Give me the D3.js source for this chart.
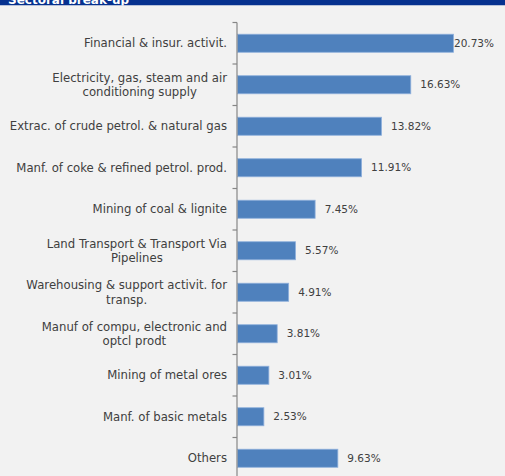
<!DOCTYPE html>
<html>
<head>
<meta charset="utf-8">
<script src="https://cdn.jsdelivr.net/npm/d3@7/dist/d3.min.js"></script>
<style>
  html, body { margin: 0; padding: 0; background: #f2f2f2; }
  svg { display: block; }
</style>
</head>
<body>
<svg id="chart" width="505" height="476"></svg>
<script>
// Sector shares of the portfolio (%); "\n" marks where a long sector name wraps
const title = "Sectoral break-up";
const categories = [
  "Financial & insur. activit.",
  "Electricity, gas, steam and air\nconditioning supply",
  "Extrac. of crude petrol. & natural gas",
  "Manf. of coke & refined petrol. prod.",
  "Mining of coal & lignite",
  "Land Transport & Transport Via\nPipelines",
  "Warehousing & support activit. for\ntransp.",
  "Manuf of compu, electronic and\noptcl prodt",
  "Mining of metal ores",
  "Manf. of basic metals",
  "Others"
];
const shares = [20.73, 16.63, 13.82, 11.91, 7.45, 5.57, 4.91, 3.81, 3.01, 2.53, 9.63];
const shareLabels = ["20.73%", "16.63%", "13.82%", "11.91%", "7.45%", "5.57%", "4.91%", "3.81%", "3.01%", "2.53%", "9.63%"];

const W = 505, H = 476;
const FONT = "'DejaVu Sans', Verdana, sans-serif";
const FS_CAT = 11.7;
const FS_VAL = 10.5;
const TEXT = "#404040";

const svg = d3.select("#chart");
svg.append("rect").attr("width", W).attr("height", H).attr("fill", "#f2f2f2");

// Section header strip
svg.append("clipPath").attr("id", "hdrClip")
  .append("rect").attr("x", 0).attr("y", 0).attr("width", W).attr("height", 5.5);
const hdr = svg.append("g").attr("clip-path", "url(#hdrClip)");
hdr.append("rect").attr("x", 0).attr("y", 0).attr("width", W).attr("height", 5.5).attr("fill", "#06318f");
hdr.append("text").attr("x", 8).attr("y", 3.5)
  .attr("fill", "#fff").attr("font-family", FONT).attr("font-weight", "bold").attr("font-size", 12)
  .text(title);

const x0 = 237;
const x = d3.scaleLinear().domain([0, 20.73]).range([x0, x0 + 216]);
const y = d3.scaleBand().domain(categories).range([22.5, 22.5 + 41.5 * categories.length])
  .paddingInner(0.565).paddingOuter(0.2825);

// Bars
svg.append("g").selectAll("rect").data(categories).join("rect")
  .attr("x", x(0) + 0.5)
  .attr("y", d => y(d))
  .attr("width", (d, i) => x(shares[i]) - x(0))
  .attr("height", y.bandwidth())
  .attr("fill", "#4f81bd")
  .attr("stroke", "#8fb0dc")
  .attr("stroke-width", 0.8);

// Category axis with ticks at band boundaries
const axis = svg.append("g").attr("class", "axis");
const step = y.step();
const y0 = y.range()[0];
axis.append("line").attr("x1", x0).attr("x2", x0).attr("y1", y0).attr("y2", H)
  .attr("stroke", "#868686").attr("stroke-width", 1.2);
axis.selectAll("line.tick").data(d3.range(categories.length + 1)).join("line")
  .attr("class", "tick")
  .attr("x1", x0 - 4.5).attr("x2", x0)
  .attr("y1", i => y0 + i * step).attr("y2", i => y0 + i * step)
  .attr("stroke", "#868686").attr("stroke-width", 1.2);

// Category labels: a block right-aligned to the axis, lines centred in the block
const labelRight = 227, lineH = 14.5;
const labels = svg.append("g").attr("font-family", FONT).attr("font-size", FS_CAT).attr("fill", TEXT);
const probe = labels.append("text").attr("visibility", "hidden");
const measure = s => { probe.text(s); return probe.node().getComputedTextLength(); };
categories.forEach(cat => {
  const lines = cat.split("\n");
  const blockW = d3.max(lines, measure);
  const cx = labelRight - blockW / 2;
  const cy = y(cat) + y.bandwidth() / 2;
  const first = cy - (lines.length - 1) * lineH / 2;
  const t = labels.append("text").attr("text-anchor", "middle");
  lines.forEach((ln, k) => {
    t.append("tspan").attr("x", cx).attr("y", first + k * lineH).attr("dy", "0.35em").text(ln);
  });
});
probe.remove();

// Value labels
const vals = svg.append("g").attr("font-family", FONT).attr("font-size", FS_VAL).attr("fill", TEXT);
categories.forEach((cat, i) => {
  const t = vals.append("text")
    .attr("y", y(cat) + y.bandwidth() / 2).attr("dy", "0.35em")
    .text(shareLabels[i]);
  const w = t.node().getComputedTextLength();
  const px = Math.min(x(shares[i]) + 10, 494 - w);
  t.attr("x", px);
});
</script>
</body>
</html>
